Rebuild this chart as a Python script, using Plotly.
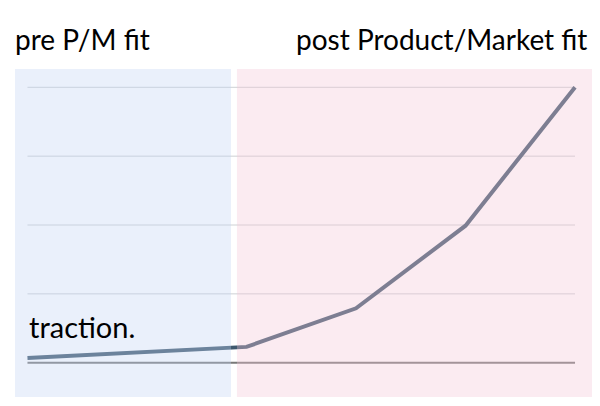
import plotly.graph_objects as go

# Data
stage_x = [0, 2, 3, 4, 5]
traction = [0.07, 0.23, 0.79, 1.99, 4.0]
grid_levels = [1, 2, 3, 4]
baseline_level = 0
phase_labels = ["pre P/M fit", "post Product/Market fit"]
series_label = "traction."

FONT = "Lato, 'Open Sans', sans-serif"

fig = go.Figure()

fig.add_trace(go.Scatter(
    x=stage_x, y=traction, mode="lines",
    line=dict(color="rgb(62,88,110)", width=4),
    hoverinfo="skip", showlegend=False,
))

shapes = []
for g in grid_levels:
    shapes.append(dict(type="line", xref="x", yref="y", x0=stage_x[0], x1=stage_x[-1],
                       y0=g, y1=g, line=dict(color="rgb(206,209,212)", width=1), layer="below"))
shapes.append(dict(type="line", xref="x", yref="y", x0=stage_x[0], x1=stage_x[-1],
                   y0=baseline_level, y1=baseline_level,
                   line=dict(color="rgb(120,120,120)", width=2), layer="below"))
# Phase overlays (semi-transparent, above the data)
shapes.append(dict(type="rect", xref="paper", yref="paper", x0=0, x1=0.3744, y0=0, y1=1,
                   fillcolor="rgb(195,212,244)", opacity=0.35, line=dict(width=0), layer="above"))
shapes.append(dict(type="rect", xref="paper", yref="paper", x0=0.3847, x1=1, y0=0, y1=1,
                   fillcolor="rgb(244,198,214)", opacity=0.35, line=dict(width=0), layer="above"))

annotations = [
    dict(text=phase_labels[0], xref="paper", yref="paper", x=-0.003, y=1.092,
         xanchor="left", yanchor="middle", showarrow=False,
         font=dict(family=FONT, size=28, color="black")),
    dict(text=phase_labels[1], xref="paper", yref="paper", x=0.994, y=1.092,
         xanchor="right", yanchor="middle", showarrow=False,
         font=dict(family=FONT, size=28, color="black")),
    dict(text=series_label, xref="x", yref="y", x=stage_x[0], y=0.53,
         xanchor="left", yanchor="middle", showarrow=False,
         font=dict(family=FONT, size=29, color="black")),
]

fig.update_layout(
    width=592, height=398,
    margin=dict(l=7, r=8, t=61, b=9),
    paper_bgcolor="white", plot_bgcolor="white",
    xaxis=dict(range=[-0.114, 5.155], visible=False, fixedrange=True),
    yaxis=dict(range=[-0.498, 4.266], visible=False, fixedrange=True),
    shapes=shapes, annotations=annotations,
    showlegend=False,
)

fig.write_html("out.html")
